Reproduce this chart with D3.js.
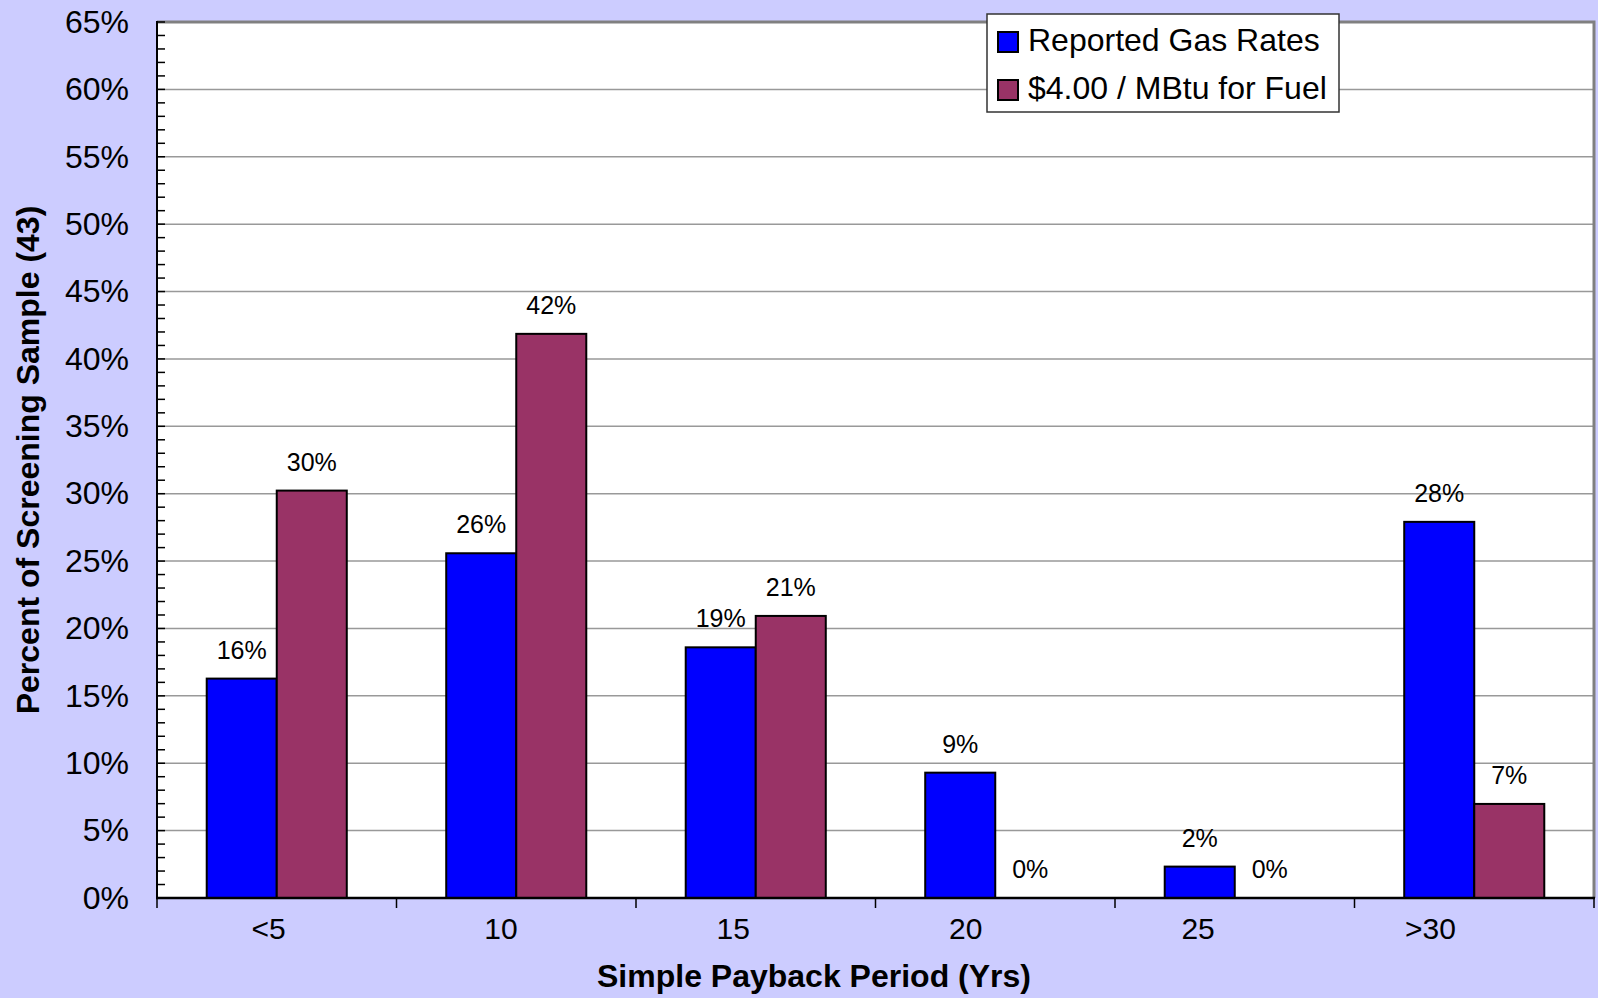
<!DOCTYPE html>
<html>
<head>
<meta charset="utf-8">
<script src="https://cdn.jsdelivr.net/npm/d3@7"></script>
<style>
  body { margin: 0; background: #ccccff; }
  svg { display: block; font-family: Arial, "Liberation Sans", sans-serif; }
</style>
</head>
<body>
<div id="CHART"></div>
<script>
// ------------------------- data ------------------------//

var categories = ["<5", "10", "15", "20", "25", ">30"];
var seriesNames = ["Reported Gas Rates", "$4.00 / MBtu for Fuel"];
var reportedGas = [16.28, 25.58, 18.60, 9.30, 2.33, 27.91];
var fuel4 = [30.23, 41.86, 20.93, 0, 0, 6.98];
var yTicks = [0, 5, 10, 15, 20, 25, 30, 35, 40, 45, 50, 55, 60, 65];
var colors = ["#0000ff", "#993366"];

// ------------------------- svg init ------------------------//

var width = 1598,
  height = 998;

var plot = { left: 157, right: 1594, top: 22, bottom: 898 };

var svg = d3.select("#CHART").append("svg")
  .attr("width", width)
  .attr("height", height);

svg.append("rect")
  .attr("width", width)
  .attr("height", height)
  .attr("fill", "#ccccff");

var x = d3.scaleBand()
  .domain(categories)
  .range([plot.left, plot.right])
  .padding(0);

var x1 = d3.scaleBand()
  .domain(seriesNames)
  .range([0, x.bandwidth()])
  .paddingInner(0)
  .paddingOuter(0.71);

// excel puts the category labels a bit left of the band centres
var xLabel = d3.scalePoint()
  .domain(categories)
  .range([268, 1430]);

var y = d3.scaleLinear()
  .domain([0, 65])
  .range([plot.bottom, plot.top]);

// plot background
svg.append("rect")
  .attr("x", plot.left)
  .attr("y", plot.top)
  .attr("width", plot.right - plot.left)
  .attr("height", plot.bottom - plot.top)
  .attr("fill", "#ffffff");

// gridlines
svg.append("g")
  .selectAll("line")
  .data(yTicks.filter(function (d) { return d > 0 && d < 65; }))
  .enter().append("line")
  .attr("x1", plot.left)
  .attr("x2", plot.right)
  .attr("y1", function (d) { return y(d); })
  .attr("y2", function (d) { return y(d); })
  .attr("stroke", "#999999")
  .attr("stroke-width", 1.5);

// top + right frame (gray)
svg.append("path")
  .attr("d", "M" + plot.left + "," + plot.top + "H" + plot.right + "V" + plot.bottom)
  .attr("fill", "none")
  .attr("stroke", "#808080")
  .attr("stroke-width", 3);

// ------------------------- bars ------------------------//

var rows = categories.map(function (c, i) {
  return { cat: c, values: [reportedGas[i], fuel4[i]] };
});

var groups = svg.append("g")
  .selectAll("g")
  .data(rows)
  .enter().append("g")
  .attr("transform", function (d) { return "translate(" + x(d.cat) + ",0)"; });

var cells = groups.selectAll("g")
  .data(function (d) {
    return d.values.map(function (v, j) { return { name: seriesNames[j], value: v, idx: j }; });
  })
  .enter().append("g");

cells.append("rect")
  .attr("x", function (d) { return x1(d.name); })
  .attr("y", function (d) { return y(d.value); })
  .attr("width", x1.bandwidth())
  .attr("height", function (d) { return y(0) - y(d.value); })
  .attr("fill", function (d) { return colors[d.idx]; })
  .attr("stroke", "#000")
  .attr("stroke-width", 2);

cells.append("text")
  .attr("x", function (d) { return x1(d.name) + x1.bandwidth() / 2; })
  .attr("y", function (d) { return y(d.value) - 20; })
  .attr("text-anchor", "middle")
  .attr("font-size", 25)
  .attr("fill", "#000")
  .text(function (d) { return Math.round(d.value) + "%"; });

// ------------------------- axes ------------------------//

// y axis labels
var yAxis = svg.append("g")
  .attr("transform", "translate(" + plot.left + ",0)")
  .call(d3.axisLeft(y)
    .tickValues(yTicks)
    .tickSize(0)
    .tickPadding(28)
    .tickFormat(function (d) { return d + "%"; }));
yAxis.select(".domain").remove();
yAxis.selectAll("text")
  .attr("font-size", 32)
  .attr("fill", "#000")
  .attr("font-family", "Arial, 'Liberation Sans', sans-serif");

// minor + major ticks pointing into the plot
svg.append("g")
  .selectAll("line")
  .data(d3.range(0, 66, 1))
  .enter().append("line")
  .attr("x1", plot.left)
  .attr("x2", plot.left + 8)
  .attr("y1", function (d) { return y(d); })
  .attr("y2", function (d) { return y(d); })
  .attr("stroke", "#000")
  .attr("stroke-width", 1.5);

svg.append("line")
  .attr("x1", plot.left).attr("x2", plot.left)
  .attr("y1", plot.top - 1).attr("y2", plot.bottom + 1)
  .attr("stroke", "#000").attr("stroke-width", 2);

// category boundary ticks
var bounds = categories.map(function (c) { return x(c); }).concat([plot.right]);
svg.append("g")
  .selectAll("line")
  .data(bounds)
  .enter().append("line")
  .attr("x1", function (d) { return d; })
  .attr("x2", function (d) { return d; })
  .attr("y1", plot.bottom)
  .attr("y2", plot.bottom + 10)
  .attr("stroke", "#000")
  .attr("stroke-width", 1.5);

svg.append("line")
  .attr("x1", plot.left - 1).attr("x2", plot.right + 1)
  .attr("y1", plot.bottom).attr("y2", plot.bottom)
  .attr("stroke", "#000").attr("stroke-width", 2.5);

var xAxis = svg.append("g")
  .attr("transform", "translate(0," + plot.bottom + ")")
  .call(d3.axisBottom(xLabel).tickSize(0).tickPadding(20));
xAxis.select(".domain").remove();
xAxis.selectAll("text")
  .attr("font-size", 30)
  .attr("fill", "#000")
  .attr("font-family", "Arial, 'Liberation Sans', sans-serif");

// titles
svg.append("text")
  .attr("x", 814)
  .attr("y", 987)
  .attr("text-anchor", "middle")
  .attr("font-size", 32)
  .attr("font-weight", "bold")
  .text("Simple Payback Period (Yrs)");

svg.append("text")
  .attr("transform", "translate(39," + (plot.top + plot.bottom) / 2 + ") rotate(-90)")
  .attr("text-anchor", "middle")
  .attr("font-size", 32)
  .attr("font-weight", "bold")
  .text("Percent of Screening Sample (43)");

// ------------------------- legend ------------------------//

var legend = svg.append("g").attr("transform", "translate(987,14)");

legend.append("rect")
  .attr("width", 352)
  .attr("height", 98)
  .attr("fill", "#fff")
  .attr("stroke", "#333")
  .attr("stroke-width", 1.5);

var items = legend.selectAll("g.item")
  .data(seriesNames)
  .enter().append("g")
  .attr("class", "item")
  .attr("transform", function (d, i) { return "translate(11," + (18 + i * 48) + ")"; });

items.append("rect")
  .attr("width", 20)
  .attr("height", 20)
  .attr("fill", function (d, i) { return colors[i]; })
  .attr("stroke", "#000")
  .attr("stroke-width", 2);

items.append("text")
  .attr("x", 30)
  .attr("y", 19)
  .attr("font-size", 32)
  .attr("fill", "#000")
  .text(function (d) { return d; });
</script>
</body>
</html>
